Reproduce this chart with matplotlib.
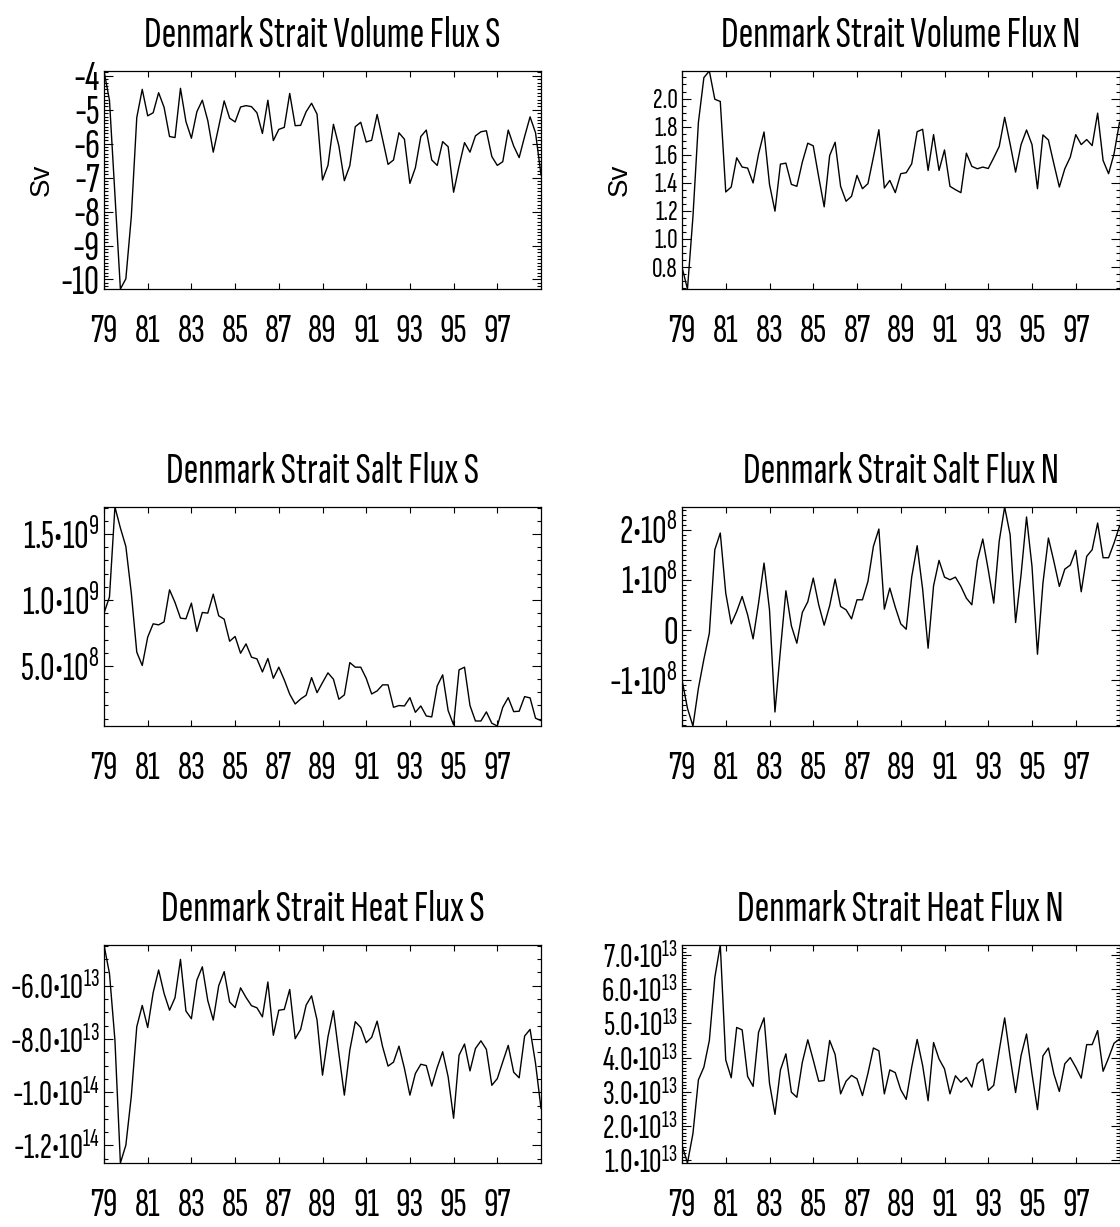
import numpy as np
import matplotlib
matplotlib.use('Agg')
import matplotlib.pyplot as plt
from matplotlib import font_manager as fm
from matplotlib.ticker import MultipleLocator

# ---------------- data (quarterly, 1979.00 .. 1999.00) ----------------
t_start, t_step, n_pts = 79.0, 0.25, 81
years = t_start + t_step * np.arange(n_pts)

vol_s = [-3.86, -4.72, -7.50, -10.28, -9.98, -8.15, -5.23, -4.40, -5.18, -5.09,
         -4.50, -4.93, -5.79, -5.82, -4.37, -5.35, -5.84, -5.06, -4.72, -5.32,
         -6.25, -5.50, -4.74, -5.25, -5.36, -4.92, -4.88, -4.91, -5.09, -5.70,
         -4.72, -5.91, -5.58, -5.52, -4.52, -5.47, -5.46, -5.06, -4.81, -5.13,
         -7.07, -6.64, -5.43, -6.07, -7.09, -6.65, -5.50, -5.37, -5.95, -5.90,
         -5.14, -5.87, -6.61, -6.48, -5.68, -5.87, -7.17, -6.71, -5.79, -5.60,
         -6.48, -6.64, -5.94, -6.09, -7.43, -6.66, -5.97, -6.25, -5.77, -5.65,
         -5.62, -6.38, -6.64, -6.53, -5.60, -6.07, -6.41, -5.79, -5.21, -5.68,
         -6.92]

vol_n = [0.80, 0.644, 1.158, 1.83, 2.149, 2.196, 1.995, 1.979, 1.335, 1.37,
         1.578, 1.512, 1.505, 1.399, 1.606, 1.762, 1.389, 1.198, 1.533, 1.540,
         1.389, 1.375, 1.547, 1.682, 1.663, 1.441, 1.229, 1.594, 1.689, 1.375,
         1.269, 1.304, 1.453, 1.358, 1.394, 1.583, 1.778, 1.363, 1.417, 1.330,
         1.465, 1.472, 1.535, 1.764, 1.781, 1.488, 1.743, 1.488, 1.634, 1.375,
         1.351, 1.330, 1.611, 1.517, 1.500, 1.512, 1.502, 1.578, 1.658, 1.866,
         1.677, 1.476, 1.672, 1.776, 1.672, 1.358, 1.741, 1.705, 1.535, 1.370,
         1.500, 1.583, 1.743, 1.672, 1.708, 1.665, 1.896, 1.559, 1.465, 1.606,
         1.830]

salt_s_1e8 = [9.0, 10.22, 17.05, 15.46, 14.06, 10.52, 6.04, 5.03, 7.18, 8.19,
              8.11, 8.34, 10.77, 9.81, 8.62, 8.57, 9.76, 7.61, 9.05, 9.0,
              10.44, 8.80, 8.54, 6.87, 7.23, 5.96, 6.67, 5.66, 5.53, 4.54,
              5.56, 4.06, 4.90, 3.94, 2.85, 2.11, 2.49, 2.77, 4.11, 2.97,
              3.73, 4.47, 3.99, 2.47, 2.80, 5.25, 4.90, 4.90, 4.06, 2.87,
              3.10, 3.56, 3.56, 1.86, 1.99, 1.96, 2.59, 1.48, 1.96, 1.20,
              1.13, 3.48, 4.32, 1.61, 0.52, 4.70, 4.90, 1.99, 0.82, 0.82,
              1.51, 0.65, 0.44, 1.86, 2.59, 1.53, 1.56, 2.67, 2.57, 1.03,
              0.85]

salt_n_1e8 = [-1.0, -1.567, -1.92, -1.167, -0.587, -0.067, 1.6, 1.933, 0.733, 0.12,
              0.367, 0.667, 0.30, -0.18, 0.533, 1.333, 0.40, -1.64, -0.40, 0.78,
              0.08, -0.267, 0.347, 0.56, 1.033, 0.50, 0.093, 0.48, 1.013, 0.467,
              0.40, 0.22, 0.60, 0.60, 0.967, 1.667, 2.013, 0.413, 0.833, 0.453,
              0.12, 0.013, 1.053, 1.68, 0.813, -0.367, 0.88, 1.387, 1.053, 1.0,
              1.053, 0.867, 0.633, 0.50, 1.38, 1.813, 1.20, 0.533, 1.767, 2.453,
              1.90, 0.147, 1.10, 2.253, 1.267, -0.487, 0.933, 1.833, 1.367, 0.867,
              1.213, 1.293, 1.587, 0.76, 1.467, 1.60, 2.133, 1.44, 1.44, 1.733,
              2.067]

heat_s_1e13 = [-4.47, -5.54, -8.04, -12.66, -11.99, -10.15, -7.54, -6.74, -7.57, -6.26,
               -5.41, -6.29, -6.92, -6.45, -5.01, -6.95, -7.24, -5.79, -5.29, -6.56,
               -7.29, -6.00, -5.47, -6.61, -6.82, -6.08, -6.44, -6.75, -6.83, -7.17,
               -5.86, -7.86, -6.92, -6.89, -6.14, -7.99, -7.64, -6.73, -6.38, -7.29,
               -9.36, -7.92, -6.94, -8.55, -10.11, -8.42, -7.35, -7.57, -8.14, -7.94,
               -7.33, -8.29, -9.02, -8.87, -8.27, -9.11, -10.11, -9.30, -8.95, -9.00,
               -9.77, -9.07, -8.48, -9.42, -10.98, -8.61, -8.19, -9.20, -8.36, -8.07,
               -8.39, -9.74, -9.49, -8.86, -8.24, -9.25, -9.46, -7.89, -7.64, -8.92,
               -10.61]

heat_n_1e13 = [1.44, 0.92, 1.78, 3.35, 3.72, 4.50, 6.34, 7.29, 3.93, 3.41,
               4.88, 4.81, 3.45, 3.16, 4.74, 5.16, 3.25, 2.34, 3.64, 4.11,
               2.99, 2.84, 3.86, 4.52, 3.93, 3.31, 3.33, 4.50, 4.09, 2.94,
               3.31, 3.48, 3.38, 2.89, 3.54, 4.28, 4.20, 2.94, 3.64, 3.56,
               3.06, 2.78, 3.72, 4.53, 3.77, 2.74, 4.44, 3.96, 3.67, 2.94,
               3.47, 3.28, 3.42, 3.14, 3.82, 3.96, 3.04, 3.19, 4.20, 5.16,
               4.01, 2.98, 4.06, 4.69, 3.52, 2.48, 4.05, 4.28, 3.52, 3.01,
               3.82, 4.00, 3.72, 3.40, 4.38, 4.38, 4.79, 3.60, 3.99, 4.42,
               4.54]

titles = ['Denmark Strait Volume Flux S', 'Denmark Strait Volume Flux N',
          'Denmark Strait Salt Flux S', 'Denmark Strait Salt Flux N',
          'Denmark Strait Heat Flux S', 'Denmark Strait Heat Flux N']

x_ticks = [79, 81, 83, 85, 87, 89, 91, 93, 95, 97]
x_labels = ['79', '81', '83', '85', '87', '89', '91', '93', '95', '97']

vol_s_ticks = [-10, -9, -8, -7, -6, -5, -4]
vol_s_labels = ['-10', '-9', '-8', '-7', '-6', '-5', '-4']
vol_n_ticks = [0.8, 1.0, 1.2, 1.4, 1.6, 1.8, 2.0]
vol_n_labels = ['0.8', '1.0', '1.2', '1.4', '1.6', '1.8', '2.0']
salt_s_ticks = [5.0e8, 1.0e9, 1.5e9]
salt_s_labels = ['5.0•10$^{\\mathregular{8}}$', '1.0•10$^{\\mathregular{9}}$',
                 '1.5•10$^{\\mathregular{9}}$']
salt_n_ticks = [-1e8, 0, 1e8, 2e8]
salt_n_labels = ['-1•10$^{\\mathregular{8}}$', '0', '1•10$^{\\mathregular{8}}$',
                 '2•10$^{\\mathregular{8}}$']
heat_s_ticks = [-1.2e14, -1.0e14, -8.0e13, -6.0e13]
heat_s_labels = ['-1.2•10$^{\\mathregular{14}}$', '-1.0•10$^{\\mathregular{14}}$',
                 '-8.0•10$^{\\mathregular{13}}$', '-6.0•10$^{\\mathregular{13}}$']
heat_n_ticks = [1e13, 2e13, 3e13, 4e13, 5e13, 6e13, 7e13]
heat_n_labels = ['%d.0•10$^{\\mathregular{13}}$' % k for k in range(1, 8)]

# ---------------- fonts ----------------
names = {f.name for f in fm.fontManager.ttflist}
FONT = 'DejaVu Sans'
for cand in ['Sofia Sans Extra Condensed', 'Sofia Sans Condensed',
             'Liberation Sans Narrow', 'Liberation Sans', 'DejaVu Sans']:
    if cand in names:
        FONT = cand
        break
plt.rcParams['font.family'] = [FONT, 'DejaVu Sans']
plt.rcParams['mathtext.fontset'] = 'custom'
plt.rcParams['mathtext.rm'] = FONT
plt.rcParams['mathtext.it'] = FONT
plt.rcParams['axes.unicode_minus'] = False

W, H = 1120, 1227
fig = plt.figure(figsize=(W / 100, H / 100), dpi=100)

cols = [(104, 541), (682, 1119.5)]
rows = [(71, 289), (507, 726), (945, 1163)]

panels = [
    (vol_s, 1.0, vol_s_ticks, vol_s_labels, 0.1, 30, 'Sv'),
    (vol_n, 1.0, vol_n_ticks, vol_n_labels, 0.05, 21, 'Sv'),
    (salt_s_1e8, 1e8, salt_s_ticks, salt_s_labels, 1e8, 29, None),
    (salt_n_1e8, 1e8, salt_n_ticks, salt_n_labels, 1e7, 29, None),
    (heat_s_1e13, 1e13, heat_s_ticks, heat_s_labels, 5e12, 26, None),
    (heat_n_1e13, 1e13, heat_n_ticks, heat_n_labels, 1e12, 25, None),
]

for k, (vals, scale, yt, yl, minor, ysize, ylab) in enumerate(panels):
    r, c = divmod(k, 2)
    x0, x1 = cols[c]
    y0, y1 = rows[r]
    ax = fig.add_axes([x0 / W, 1 - y1 / H, (x1 - x0) / W, (y1 - y0) / H])
    v = np.asarray(vals) * scale
    ax.plot(years, v, color='black', lw=1.0)
    ax.set_xlim(79, 99)
    ax.set_ylim(v.min(), v.max())
    ax.set_xticks(x_ticks, x_labels)
    ax.set_yticks(yt, yl)
    ax.yaxis.set_minor_locator(MultipleLocator(minor))
    ax.tick_params(axis='both', which='both', direction='in', top=True, right=True,
                   width=0.8, color='black')
    ax.tick_params(axis='x', which='major', length=4.5, pad=18, labelsize=29)
    ax.tick_params(axis='y', which='major', length=6.5, pad=3, labelsize=ysize)
    ax.tick_params(axis='y', which='minor', length=3)
    for s in ax.spines.values():
        s.set_linewidth(0.9)
    ax.set_title(titles[k], fontsize=32, pad=17)
    if ylab:
        ax.set_ylabel(ylab, fontsize=20, family=['Liberation Sans', 'DejaVu Sans'])
        ax.yaxis.set_label_coords(-0.113, 0.5)

fig.savefig('out.png', dpi=100)
